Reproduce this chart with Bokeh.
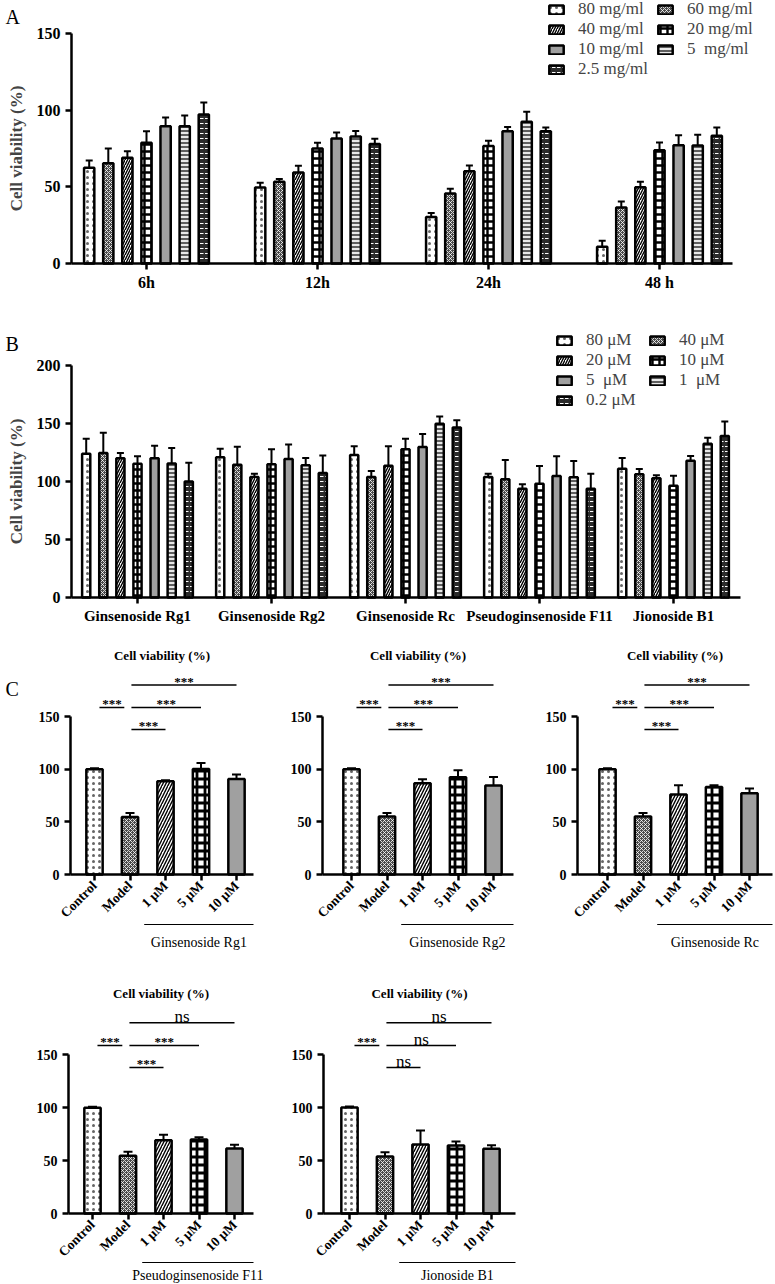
import math
from bokeh.plotting import figure
from bokeh.models import (ColumnDataSource, Whisker, TeeHead, FixedTicker,
                          Legend, LegendItem, Label)
from bokeh.layouts import column, row
from bokeh.embed import file_html
from bokeh.resources import INLINE
from bokeh.core.properties import value

SERIF = "Liberation Serif"

# ---------------- Panel A data ----------------
a_times = ["6h", "12h", "24h", "48 h"]
a_doses = ["80 mg/ml", "60 mg/ml", "40 mg/ml", "20 mg/ml", "10 mg/ml", "5  mg/ml", "2.5 mg/ml"]
a_mean_6h = [62.4, 65.4, 69.0, 78.7, 89.6, 89.6, 97.2]
a_sd_6h = [4.8, 9.6, 4.3, 7.6, 5.6, 6.9, 7.8]
a_mean_12h = [49.6, 53.3, 59.3, 75.0, 81.5, 82.8, 78.0]
a_sd_12h = [3.0, 1.9, 4.4, 3.7, 3.9, 3.7, 3.3]
a_mean_24h = [30.4, 45.7, 60.2, 76.7, 86.3, 92.4, 86.3]
a_sd_24h = [2.6, 3.0, 3.8, 3.3, 2.7, 6.6, 2.4]
a_mean_48h = [10.9, 36.5, 49.8, 73.9, 77.2, 77.0, 83.3]
a_sd_48h = [3.9, 3.9, 3.5, 5.1, 6.5, 7.0, 5.4]
a_ticks = [0, 50, 100, 150]

# ---------------- Panel B data ----------------
b_compounds = ["Ginsenoside Rg1", "Ginsenoside Rg2", "Ginsenoside Rc",
               "Pseudoginsenoside F11", "Jionoside B1"]
b_doses = ["80 μM", "40 μM", "20 μM", "10 μM", "5  μM", "1  μM", "0.2 μM"]
b_mean_rg1 = [124.0, 124.5, 120.0, 115.3, 120.0, 115.6, 100.1]
b_sd_rg1 = [12.9, 17.5, 4.5, 6.4, 10.8, 13.2, 16.1]
b_mean_rg2 = [120.8, 114.5, 103.9, 114.8, 119.4, 114.0, 107.3]
b_sd_rg2 = [7.5, 15.5, 2.8, 12.9, 12.6, 6.2, 15.2]
b_mean_rc = [122.8, 103.9, 113.6, 127.7, 129.7, 149.8, 146.6]
b_sd_rc = [7.5, 5.1, 16.7, 9.2, 11.2, 6.2, 6.1]
b_mean_f11 = [103.9, 101.9, 93.8, 98.1, 104.7, 103.6, 93.8]
b_sd_f11 = [2.8, 16.6, 3.8, 15.2, 17.0, 14.0, 12.9]
b_mean_b1 = [111.0, 106.2, 102.7, 96.4, 117.9, 132.6, 139.2]
b_sd_b1 = [9.2, 4.6, 2.6, 8.6, 4.1, 5.1, 12.6]
b_ticks = [0, 50, 100, 150, 200]

# ---------------- Panel C data ----------------
c_groups = ["Control", "Model", "1 μM", "5 μM", "10 μM"]
c_ticks = [0, 50, 100, 150]
c_mean_rg1 = [100.0, 54.5, 88.6, 100.3, 90.8]
c_sd_rg1 = [1.0, 4.0, 0.9, 5.7, 4.2]
c_mean_rg2 = [100.0, 55.0, 86.7, 92.4, 84.5]
c_sd_rg2 = [1.0, 3.5, 3.8, 6.6, 8.2]
c_mean_rc = [100.0, 55.0, 76.0, 83.2, 77.2]
c_sd_rc = [1.0, 3.5, 8.8, 1.6, 4.4]
c_mean_f11 = [99.7, 54.4, 69.2, 69.8, 61.3]
c_sd_f11 = [0.9, 3.8, 5.0, 2.2, 3.5]
c_mean_b1 = [100.0, 53.8, 65.2, 64.2, 61.0]
c_sd_b1 = [1.0, 4.1, 13.0, 3.8, 3.5]
c_pairs = [(0, 1), (1, 2), (1, 3), (1, 4)]
c_levels = [158.5, 137.7, 158.5, 180.0]
c_sig_rg1 = ["***", "***", "***", "***"]
c_sig_rg2 = ["***", "***", "***", "***"]
c_sig_rc = ["***", "***", "***", "***"]
c_sig_f11 = ["***", "***", "***", "ns"]
c_sig_b1 = ["***", "ns", "ns", "ns"]
c_title = "Cell viability (%)"
c_names = ["Ginsenoside Rg1", "Ginsenoside Rg2", "Ginsenoside Rc",
           "Pseudoginsenoside F11", "Jionoside B1"]


def pattern(i, big=False):
    s = dict(line_color="black", line_width=2.5)
    if i == 0:
        s.update(fill_color="white", hatch_pattern="dot", hatch_color="#666666",
                 hatch_scale=6, hatch_weight=1)
    elif i == 1:
        s.update(fill_color="#4a4a4a", hatch_pattern="diagonal_cross", hatch_color="white",
                 hatch_scale=4, hatch_weight=0.8)
    elif i == 2:
        s.update(fill_color="white", hatch_pattern="right_diagonal_line", hatch_color="black",
                 hatch_scale=6 if big else 5, hatch_weight=1.4)
    elif i == 3:
        s.update(fill_color="white", hatch_pattern="cross", hatch_color="black",
                 hatch_scale=8 if big else 7, hatch_weight=2.8 if big else 2.4)
    elif i == 4:
        s.update(fill_color="#a0a0a0")
    elif i == 5:
        s.update(fill_color="#e8e8e8", hatch_pattern="horizontal_line", hatch_color="black",
                 hatch_scale=4, hatch_weight=1.2)
    else:
        s.update(fill_color="#2b2b2b", hatch_pattern="horizontal_dash", hatch_color="white",
                 hatch_scale=5, hatch_weight=1)
    return s


def style_axes(p, tick_size, xlab_size):
    p.outline_line_color = None
    p.xgrid.visible = False
    p.ygrid.visible = False
    for ax in p.axis:
        ax.axis_line_width = 2.5
        ax.axis_line_color = "black"
        ax.major_tick_line_width = 2.5
        ax.major_tick_line_color = "black"
        ax.major_tick_in = 0
        ax.major_tick_out = 6
        ax.minor_tick_in = 0
        ax.minor_tick_out = 0
        ax.major_label_text_font = SERIF
        ax.major_label_text_font_style = "bold"
        ax.major_label_text_color = "black"
    p.yaxis.major_label_text_font_size = tick_size
    p.xaxis.major_label_text_font_size = xlab_size


def add_bars(p, xs, tops, sds, width, style, cap):
    src = ColumnDataSource(dict(x=xs, top=tops, up=[t + e for t, e in zip(tops, sds)]))
    r = p.vbar(x="x", top="top", width=width, bottom=0, source=src, **style)
    w = Whisker(source=src, base="x", lower="top", upper="up", dimension="height",
                line_width=2, line_color="black", lower_head=None,
                upper_head=TeeHead(size=cap, line_width=2, line_color="black"))
    p.add_layout(w)
    return r


def panel_label(p, text, x, y):
    p.add_layout(Label(x=x, y=y, x_units="screen", y_units="screen", text=text,
                       text_font=SERIF, text_font_size="20px", text_baseline="top",
                       text_align="left", text_color="black"))


def grouped_panel(groups, doses, means, sds, ticks, height, zero_px, unit_px, y_px,
                  cat0_px, axis_px, axis_end_px, step, bar_w, cap, legend_loc,
                  label, label_top, xlab_size, label_w):
    # the frame covers the whole figure; both axes sit at fixed data locations
    W = 775
    x_start = -cat0_px / unit_px
    x_end = (W - cat0_px) / unit_px
    y_start = -(height - zero_px) / y_px
    y_end = zero_px / y_px
    p = figure(width=W, height=height, x_range=(x_start, x_end), y_range=(y_start, y_end),
               min_border_left=0, min_border_right=0, min_border_top=0,
               min_border_bottom=0, output_backend="svg", toolbar_location=None)
    items = []
    n = len(doses)
    for i, d in enumerate(doses):
        xs = [g + (i - (n - 1) / 2) * step for g in range(len(groups))]
        tops = [m[i] for m in means]
        es = [s[i] for s in sds]
        r = add_bars(p, xs, tops, es, bar_w, pattern(i), cap)
        items.append(LegendItem(label=d, renderers=[r]))
    style_axes(p, "16px", xlab_size)
    y_loc = (axis_px - cat0_px) / unit_px
    p.yaxis.fixed_location = y_loc
    p.yaxis.ticker = FixedTicker(ticks=ticks)
    p.yaxis.bounds = (ticks[0], ticks[-1])
    p.yaxis.axis_label = "Cell viability (%)"
    p.yaxis.axis_label_text_font = SERIF
    p.yaxis.axis_label_text_font_style = "bold"
    p.yaxis.axis_label_text_font_size = "17px"
    p.yaxis.axis_label_standoff = 8
    p.xaxis.fixed_location = 0
    p.xaxis.ticker = FixedTicker(ticks=list(range(len(groups))))
    p.xaxis.major_label_overrides = {i: g for i, g in enumerate(groups)}
    p.xaxis.major_label_standoff = 4
    p.xaxis.bounds = (y_loc, (axis_end_px - cat0_px) / unit_px)
    leg = Legend(items=items, location=legend_loc, orientation="horizontal", ncols=2,
                 label_text_font=SERIF, label_text_font_size="17px",
                 glyph_width=18, glyph_height=11, label_standoff=13, spacing=0,
                 padding=0, margin=0, border_line_color=None, background_fill_alpha=0,
                 label_height=16, label_width=label_w)
    p.add_layout(leg)
    panel_label(p, label, 5, height - label_top)
    return p


pA = grouped_panel(a_times, a_doses,
                   [a_mean_6h, a_mean_12h, a_mean_24h, a_mean_48h],
                   [a_sd_6h, a_sd_12h, a_sd_24h, a_sd_48h],
                   a_ticks, 318, 263, 171, 1.533, 146, 71, 732,
                   0.1117, 0.06, 7, (547, 239), "A", 5, "16px", 78)

pB = grouped_panel(b_compounds, b_doses,
                   [b_mean_rg1, b_mean_rg2, b_mean_rc, b_mean_f11, b_mean_b1],
                   [b_sd_rg1, b_sd_rg2, b_sd_rc, b_sd_f11, b_sd_b1],
                   b_ticks, 312, 279, 134, 1.16, 137, 71, 740,
                   0.1276, 0.061, 7, (555, 220), "B", 14, "15px", 62)

C_UNIT = 35.5


def c_panel(means, sds, sigs, name, width, height, axis_x, cat0_x, axis_end_x, zero_y,
            y_px, title_y, line_gap, name_gap, label=None):
    # the frame covers the whole figure; axes sit at fixed data locations
    x_start = -cat0_x / C_UNIT
    x_end = (width - cat0_x) / C_UNIT
    y_end = zero_y / y_px
    y_start = -(height - zero_y) / y_px
    y_loc = (axis_x - cat0_x) / C_UNIT
    ax_end = (axis_end_x - cat0_x) / C_UNIT
    p = figure(width=width, height=height, x_range=(x_start, x_end),
               y_range=(y_start, y_end), min_border_left=0, min_border_right=0,
               min_border_top=0, min_border_bottom=0, output_backend="svg",
               toolbar_location=None)
    for i in range(len(c_groups)):
        add_bars(p, [i], [means[i]], [sds[i]], 0.46, pattern(i, big=True), 9)
    style_axes(p, "14px", "13.5px")
    p.yaxis.fixed_location = y_loc
    p.yaxis.ticker = FixedTicker(ticks=c_ticks)
    p.yaxis.bounds = (c_ticks[0], c_ticks[-1])
    p.xaxis.fixed_location = 0
    p.xaxis.bounds = (y_loc, ax_end)
    p.xaxis.ticker = FixedTicker(ticks=list(range(len(c_groups))))
    p.xaxis.major_label_overrides = {i: g for i, g in enumerate(c_groups)}
    p.xaxis.major_label_orientation = math.pi / 4
    p.xaxis.major_label_standoff = 3
    # title centred over the axis span
    p.text(x=[(y_loc + ax_end) / 2], y=[(zero_y - title_y) / y_px], text=[c_title],
           text_font=value(SERIF), text_font_size="13px", text_font_style="bold",
           text_align="center", text_baseline="middle", text_color="black")
    # significance brackets
    x0 = [a + (0.14 if a == 0 else 0.04) for a, b in c_pairs]
    x1 = [b - (0.16 if a == 0 else 0.0) for a, b in c_pairs]
    sig_src = ColumnDataSource(dict(x0=x0, x1=x1, y=c_levels))
    p.segment(x0="x0", y0="y", x1="x1", y1="y", source=sig_src, line_color="black",
              line_width=1.5)
    for xa, xb, lv, s in zip(x0, x1, c_levels, sigs):
        ns = s == "ns"
        p.text(x=[(xa + xb) / 2], y=[lv + (6 if ns else 3.5)], text=[s],
               text_font=value(SERIF), text_font_size="17px" if ns else "13px",
               text_font_style="normal" if ns else "bold", text_align="center",
               text_baseline="alphabetic", text_color="black")
    # group underline + group name
    g0 = 2 - 0.6
    y_line = -line_gap / y_px
    p.segment(x0=[g0], y0=[y_line], x1=[ax_end], y1=[y_line], line_color="black",
              line_width=1.2)
    p.text(x=[(g0 + ax_end) / 2], y=[y_line], text=[name], y_offset=name_gap,
           text_font=value(SERIF), text_font_size="14px", text_align="center",
           text_baseline="middle", text_color="black")
    if label:
        panel_label(p, label, 5, height - 47)
    return p


c1 = c_panel(c_mean_rg1, c_sd_rg1, c_sig_rg1, c_names[0], 258, 330, 70, 94, 253, 244, 1.053, 25, 50, 18, "C")
c2 = c_panel(c_mean_rg2, c_sd_rg2, c_sig_rg2, c_names[1], 257, 330, 64, 93, 255, 244, 1.053, 25, 50, 18)
c3 = c_panel(c_mean_rc, c_sd_rc, c_sig_rc, c_names[2], 260, 330, 62, 92, 257, 244, 1.053, 25, 50, 18)
c4 = c_panel(c_mean_f11, c_sd_f11, c_sig_f11, c_names[3], 276, 324, 68, 92, 253, 253, 1.06, 33, 49, 13)
c5 = c_panel(c_mean_b1, c_sd_b1, c_sig_b1, c_names[4], 250, 324, 47, 73, 239, 253, 1.06, 33, 49, 13)

layout = column(pA, pB, row(c1, c2, c3), row(c4, c5))
open("out.html", "w").write(file_html(layout, INLINE))
